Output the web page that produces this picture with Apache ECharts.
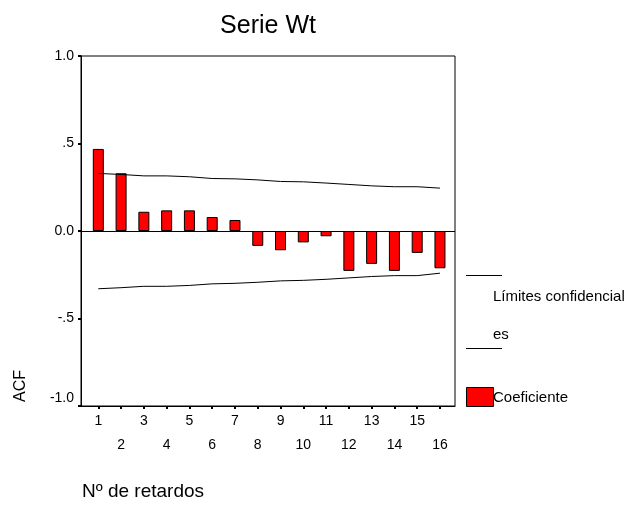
<!DOCTYPE html>
<html>
<head>
<meta charset="utf-8">
<script src="https://cdn.jsdelivr.net/npm/echarts@6/dist/echarts.min.js"></script>
<style>html,body{margin:0;padding:0;background:#fff}#c{width:630px;height:507px}</style>
</head>
<body>
<div id="c"></div>
<script>
const lags = [1,2,3,4,5,6,7,8,9,10,11,12,13,14,15,16];
const acf = [0.469,0.330,0.110,0.118,0.118,0.080,0.063,-0.085,-0.110,-0.065,-0.030,-0.228,-0.188,-0.228,-0.125,-0.213];
const upperLimit = [0.329,0.323,0.315,0.315,0.310,0.300,0.298,0.292,0.283,0.281,0.274,0.266,0.258,0.253,0.253,0.245];
const lowerLimit = [-0.330,-0.324,-0.316,-0.316,-0.311,-0.302,-0.299,-0.293,-0.285,-0.282,-0.276,-0.268,-0.260,-0.255,-0.255,-0.241];
const yTicks = [-1, -0.5, 0, 0.5, 1];
const yTickLabels = ['-1.0', '-.5', '0.0', '.5', '1.0'];
const oddLags = lags.filter(v => v % 2 === 1);
const evenLags = lags.filter(v => v % 2 === 0);

const FONT = "'Liberation Sans', Arial, sans-serif";
const chart = echarts.init(document.getElementById('c'));
const xBase = {
  type: 'value', min: 0.24, max: 16.66, position: 'bottom',
  splitLine: {show: false}
};
chart.setOption({
  animation: false,
  backgroundColor: '#fff',
  grid: {left: 81, top: 56, width: 374, height: 350, show: true, borderColor: '#000', borderWidth: 1, backgroundColor: 'transparent'},
  xAxis: [
    Object.assign({}, xBase, {
      axisLine: {show: true, onZero: false, lineStyle: {color: '#000', width: 1}},
      axisTick: {show: true, inside: false, length: 3, customValues: lags, lineStyle: {color: '#000', width: 2}},
      axisLabel: {customValues: oddLags, margin: 8, color: '#000', fontSize: 14, fontFamily: FONT}
    }),
    Object.assign({}, xBase, {
      axisLine: {show: false, onZero: false},
      axisTick: {show: false},
      axisLabel: {customValues: evenLags, margin: 32, color: '#000', fontSize: 14, fontFamily: FONT}
    })
  ],
  yAxis: {
    type: 'value', min: -1, max: 1, interval: 0.5,
    splitLine: {show: false},
    axisLine: {show: true, onZero: false, lineStyle: {color: '#000', width: 1}},
    axisTick: {show: true, inside: false, length: 3, lineStyle: {color: '#000', width: 2}},
    axisLabel: {margin: 7, color: '#000', fontSize: 14, fontFamily: FONT,
      formatter: v => {
        const t = yTickLabels[yTicks.indexOf(v)];
        return v === -1 ? '{up|' + t + '}' : t;
      },
      rich: {up: {fontSize: 14, fontFamily: FONT, color: '#000', padding: [0, 0, 16, 0]}}
    }
  },
  series: [
    {
      type: 'bar', xAxisIndex: 0, barWidth: 11,
      data: lags.map((l, i) => [l, acf[i]]),
      itemStyle: {color: '#ff0000', borderColor: '#000', borderWidth: 1},
      markLine: {silent: true, symbol: 'none', label: {show: false},
        lineStyle: {color: '#000', width: 1, type: 'solid'},
        data: [{yAxis: 0}]}
    },
    {
      type: 'line', xAxisIndex: 0, symbol: 'none',
      data: lags.map((l, i) => [l, upperLimit[i]]),
      lineStyle: {color: '#000', width: 1}
    },
    {
      type: 'line', xAxisIndex: 0, symbol: 'none',
      data: lags.map((l, i) => [l, lowerLimit[i]]),
      lineStyle: {color: '#000', width: 1}
    }
  ],
  graphic: [
    {type: 'text', x: 268, y: 26, style: {text: 'Serie Wt', font: "25px " + FONT, fill: '#000', align: 'center', verticalAlign: 'middle'}},
    {type: 'text', x: 21, y: 386, rotation: Math.PI / 2,
      style: {text: 'ACF', font: "16px " + FONT, fill: '#000', align: 'center', verticalAlign: 'middle'}},
    {type: 'text', x: 82, y: 492, style: {text: 'Nº de retardos', font: "19px " + FONT, fill: '#000', verticalAlign: 'middle'}},
    {type: 'line', shape: {x1: 466, y1: 275.5, x2: 502, y2: 275.5}, style: {stroke: '#000', lineWidth: 1}},
    {type: 'text', x: 493, y: 297, style: {text: 'Límites confidencial', font: "15px " + FONT, fill: '#000', verticalAlign: 'middle'}},
    {type: 'text', x: 493, y: 335, style: {text: 'es', font: "15px " + FONT, fill: '#000', verticalAlign: 'middle'}},
    {type: 'line', shape: {x1: 466, y1: 348.5, x2: 502, y2: 348.5}, style: {stroke: '#000', lineWidth: 1}},
    {type: 'rect', shape: {x: 466.5, y: 387.5, width: 27, height: 19}, style: {fill: '#ff0000', stroke: '#000', lineWidth: 1}},
    {type: 'text', x: 493, y: 398, style: {text: 'Coeficiente', font: "15px " + FONT, fill: '#000', verticalAlign: 'middle'}}
  ]
});
</script>
</body>
</html>
